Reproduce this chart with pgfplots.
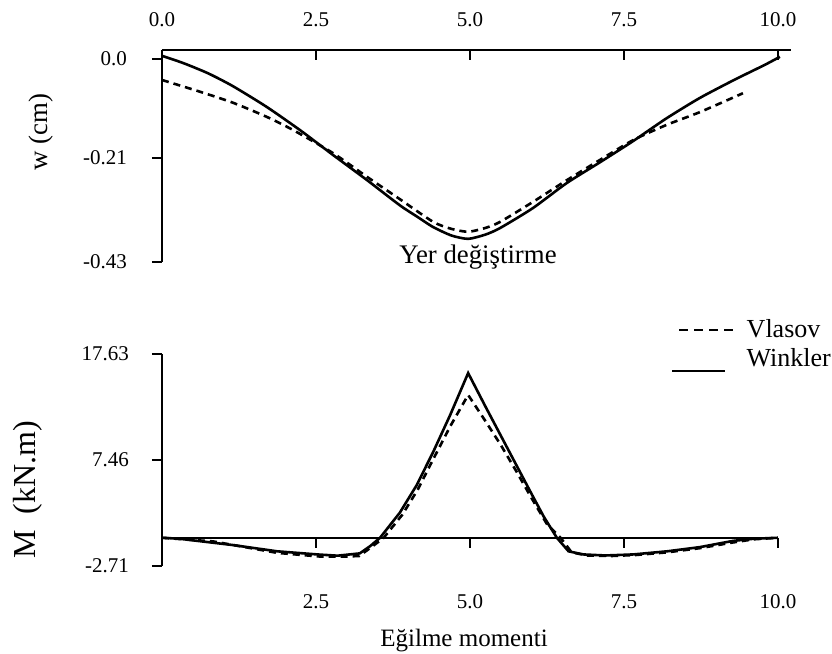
\documentclass[border=0pt]{standalone}
\usepackage{fontspec}
\setmainfont{Liberation Serif}
\usepackage{pgfplots}
\pgfplotsset{compat=1.18}

\pgfplotsset{
  beamstyle/.style={
    scale only axis, clip=false,
    axis line style={line width=1pt},
    tick style={line width=1pt, black},
    major tick length=5pt,
    /pgf/number format/assume math mode=true,
    ticklabel style={font=\fontsize{10.5}{12}\selectfont},
  },
  winkler/.style={black, line width=1.3pt},
  vlasov/.style={black, line width=1.3pt, dash pattern=on 3.5pt off 2.5pt},
}

\begin{document}
\begin{tikzpicture}
\path[use as bounding box] (0,0) rectangle (416pt,-327pt);

% Yer degistirme
\begin{axis}[beamstyle,
  at={(81pt,-25pt)}, anchor=north west,
  width=314.5pt, height=106pt,
  xmin=0, xmax=10.21, ymin=-0.43, ymax=0.0184,
  axis x line*=top, axis y line*=left,
  tick align=inside,
  xtick={0,2.5,5,7.5,10}, xticklabels={0.0,2.5,5.0,7.5,10.0},
  ytick={0,-0.21,-0.43}, yticklabels={0.0,-0.21,-0.43},
  ytick style={xshift=-5pt},
  xticklabel style={yshift=8pt},
  yticklabel style={xshift=-14pt},
]
\addplot[winkler, smooth, tension=0.4] coordinates {
 (0,0.006) (0.34,-0.009) (0.75,-0.031) (1.15,-0.058) (1.70,-0.102)
 (2.24,-0.151) (2.78,-0.204) (3.33,-0.257) (3.86,-0.310) (4.14,-0.334)
 (4.40,-0.356) (4.70,-0.374) (4.97,-0.381) (5.25,-0.372) (5.49,-0.358)
 (6.02,-0.316) (6.57,-0.263) (7.11,-0.219) (7.65,-0.174) (8.19,-0.126)
 (8.73,-0.083) (9.27,-0.046) (9.55,-0.028) (9.80,-0.012) (10.03,0.004)};
\addplot[vlasov, smooth, tension=0.4] coordinates {
 (0,-0.045) (0.62,-0.070) (1.15,-0.093) (1.70,-0.123) (2.13,-0.151)
 (2.78,-0.200) (3.33,-0.250) (3.86,-0.297) (4.40,-0.345) (4.70,-0.360)
 (4.97,-0.366) (5.25,-0.358) (5.49,-0.345) (6.02,-0.303) (6.57,-0.257)
 (7.11,-0.214) (7.65,-0.172) (8.19,-0.140) (8.73,-0.113) (9.43,-0.073)};
\end{axis}

% Egilme momenti
\begin{axis}[beamstyle,
  at={(81pt,-177pt)}, anchor=north west,
  width=308pt, height=106pt,
  xmin=0, xmax=10, ymin=-2.71, ymax=17.63,
  axis x line*=middle, axis y line*=left,
  tick align=outside,
  xtick={2.5,5,7.5,10}, xticklabels={2.5,5.0,7.5,10.0},
  ytick={17.63,7.46,-2.71}, yticklabels={17.63,7.46,-2.71},
  xticklabel style={yshift=-20pt},
  yticklabel style={xshift=-8pt},
  legend cell align=left,
  legend style={at={(1.093,1.184)}, anchor=north east, draw=none, fill=none,
    inner sep=0pt, row sep=0pt, font=\fontsize{13}{14}\selectfont,
    /tikz/every even column/.append style={column sep=6pt}},
]
\addplot[vlasov, legend image code/.code={\draw[black, line width=1pt, dash pattern=on 4.5pt off 3pt] (-9pt,0pt) -- (18pt,0pt); \path (22pt,0pt);}] coordinates {
 (0,0) (0.83,-0.35) (1.87,-1.45) (2.56,-1.8) (3.0,-1.8) (3.2,-1.75)
 (3.4,-0.9) (3.6,0) (3.9,2.2) (4.15,4.6) (4.40,7.5) (4.68,10.7)
 (4.97,13.7) (5.25,11.2) (5.50,8.9) (5.75,6.4) (6.00,3.8) (6.25,1.3)
 (6.47,0) (6.65,-1.4) (6.9,-1.7) (7.3,-1.75) (7.7,-1.65) (8.2,-1.4)
 (8.73,-1.0) (9.27,-0.45) (9.6,-0.15) (10,0)};
\addlegendentry{Vlasov}
\addplot[winkler, legend image code/.code={\draw[black, line width=1pt] (-12.5pt,-6pt) -- (14pt,-6pt); \path (22pt,-6pt);}] coordinates {
 (0,0) (0.29,-0.1) (1.15,-0.7) (1.87,-1.3) (2.52,-1.6) (2.85,-1.72)
 (3.21,-1.5) (3.38,-0.8) (3.54,0) (3.86,2.4) (4.13,5.0) (4.40,8.2)
 (4.68,11.8) (4.97,15.8) (5.25,12.6) (5.50,9.8) (5.75,7.0) (6.00,4.2)
 (6.20,2.0) (6.41,0) (6.60,-1.3) (6.84,-1.6) (7.2,-1.7) (7.65,-1.6)
 (8.2,-1.3) (8.73,-0.9) (9.27,-0.3) (9.6,-0.1) (10,0)};
\addlegendentry{Winkler}
\end{axis}

\node[rotate=90, font=\fontsize{13.4}{15}\selectfont] at (20.5pt,-66pt) {w (cm)};
\node[rotate=90, font=\fontsize{16}{18}\selectfont] at (14pt,-245pt) {M\ \ (kN.m)};
\node[anchor=base, font=\fontsize{13.4}{15}\selectfont] at (239pt,-131.5pt) {Yer değiştirme};
\node[anchor=base, font=\fontsize{12.5}{14}\selectfont] at (232pt,-323pt) {Eğilme momenti};
\end{tikzpicture}
\end{document}
